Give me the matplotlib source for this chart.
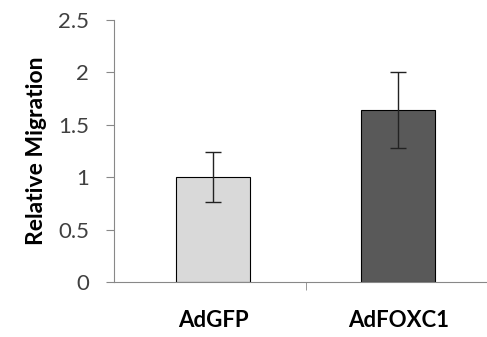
import matplotlib.pyplot as plt

groups = ["AdGFP", "AdFOXC1"]
migration = [1.0, 1.64]
err = [0.24, 0.36]
colors = ["#D9D9D9", "#595959"]

fig = plt.figure(figsize=(4.87, 3.37), dpi=100)
ax = fig.add_axes([0.234, 0.163, 0.766, 0.778])

x = range(len(groups))
ax.bar(x, migration, width=0.4, color=colors, edgecolor="black", linewidth=0.8, zorder=2)
ax.errorbar(x, migration, yerr=err, fmt="none", ecolor="#222222", elinewidth=1, capsize=6, capthick=1, zorder=3)

ax.set_xlim(-0.538, 1.48)
ax.set_ylim(0, 2.5)
ax.set_yticks([0, 0.5, 1, 1.5, 2, 2.5])
ax.set_yticklabels(["0", "0.5", "1", "1.5", "2", "2.5"], fontsize=16, family="Lato", color="#404040")
ax.set_xticks(list(x))
ax.set_xticklabels(groups, fontsize=16, fontweight="bold", family="Lato")
ax.set_xticks([0.5], minor=True)
ax.tick_params(axis="x", which="major", length=0, pad=20)
ax.tick_params(axis="x", which="minor", length=6, color="#888888", direction="out")
ax.tick_params(axis="y", length=6, color="#888888", pad=12)

for s in ["top", "right"]:
    ax.spines[s].set_visible(False)
ax.spines["left"].set_color("#888888")
ax.spines["bottom"].set_color("#888888")

ax.set_ylabel("Relative Migration", fontsize=16.5, fontweight="bold", family="Lato", labelpad=8)

fig.savefig("out.png", dpi=100)
